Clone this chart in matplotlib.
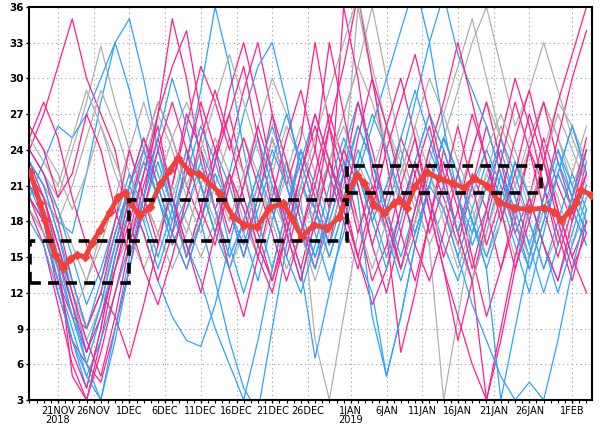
import matplotlib
matplotlib.use("Agg")
import matplotlib.pyplot as plt
from matplotlib.patches import Rectangle
import numpy as np

# days counted from 17 Nov 2018
member_days = list(range(0, 80, 2))

pink = [
    [24, 27, 31, 35, 30, 27, 24, 18, 22, 26, 20, 15, 19, 24, 27, 22, 17, 13, 18, 24, 20, 16, 22, 28, 24, 19, 14, 18, 23, 20, 16, 21, 26, 22, 17, 20, 25, 21, 18, 23],
    [22, 18, 12, 8, 6, 4.5, 9, 14, 20, 27, 35, 30, 23, 19, 22, 17, 21, 27, 23, 18, 14, 19, 24, 21, 16, 12, 17, 22, 26, 21, 17, 22, 19, 14, 18, 24, 28, 23, 19, 22],
    [20, 17, 13, 10, 9, 12, 10, 6.5, 11, 16, 21, 26, 31, 28, 24, 29, 33, 27, 21, 17, 22, 27, 23, 18, 13, 16, 21, 25, 20, 15, 19, 24, 28, 23, 18, 15, 20, 25, 30, 34],
    [23, 20, 15, 5, 3, 8, 14, 19, 24, 28, 25, 21, 18, 23, 29, 33, 28, 22, 18, 14, 19, 26, 31, 37, 30, 23, 17, 13, 18, 24, 20, 15, 10, 14, 19, 24, 21, 16, 20, 25],
    [21, 19, 14, 7, 4, 9, 15, 20, 17, 13, 17, 23, 28, 24, 19, 15, 20, 25, 21, 25, 33, 26, 19, 15, 11, 14, 19, 23, 19, 14, 10, 6, 3, 8, 14, 19, 23, 19, 15, 18],
    [25, 28, 25, 20, 16, 13, 18, 24, 20, 16, 21, 27, 24, 19, 14, 10, 15, 20, 25, 29, 24, 19, 36, 30, 22, 17, 7, 12, 18, 23, 19, 14, 19, 25, 30, 26, 21, 17, 13, 18],
    [19, 16, 11, 6, 3, 7, 12, 17, 22, 27, 31, 34, 27, 21, 17, 21, 26, 22, 17, 13, 18, 23, 20, 15, 20, 26, 30, 25, 19, 14, 8, 13, 18, 23, 28, 24, 19, 15, 19, 24],
    [24, 22, 18, 13, 9, 12, 17, 21, 25, 21, 17, 14, 18, 23, 27, 31, 25, 19, 15, 20, 24, 33, 27, 21, 16, 20, 25, 22, 17, 21, 26, 21, 16, 20, 25, 29, 24, 19, 15, 12],
    [22, 20, 16, 12, 8, 5, 10, 16, 21, 25, 20, 16, 12, 17, 22, 19, 15, 12, 17, 22, 26, 22, 18, 14, 19, 24, 28, 32, 27, 22, 17, 13, 3, 9, 15, 20, 16, 13, 18, 22],
    [26, 24, 20, 22, 27, 24, 19, 15, 19, 24, 28, 24, 19, 16, 21, 25, 21, 17, 13, 17, 21, 26, 22, 17, 21, 18, 14, 19, 24, 28, 33, 28, 23, 19, 14, 18, 23, 28, 32, 36],
    [20, 18, 15, 11, 7, 10, 14, 18, 14, 11, 15, 20, 25, 29, 25, 20, 16, 13, 17, 22, 27, 23, 19, 25, 30, 26, 21, 16, 13, 17, 22, 27, 23, 18, 22, 27, 23, 18, 14, 17],
]

blue = [
    [22, 20, 18, 17, 22, 28, 33, 35, 30, 24, 19, 15, 19, 24, 21, 17, 13, 18, 23, 19, 15, 19, 24, 28, 23, 18, 14, 18, 22, 19, 15, 19, 23, 20, 16, 12, 17, 22, 26, 22],
    [20, 23, 26, 25, 27, 30, 33, 29, 24, 20, 17, 20, 24, 21, 16, 12, 16, 21, 18, 14, 6.5, 12, 18, 22, 19, 15, 19, 23, 20, 16, 13, 17, 21, 24, 20, 16, 20, 24, 21, 18],
    [21, 18, 13, 8, 4, 9, 15, 20, 17, 13, 10, 8, 7.5, 11, 16, 21, 25, 21, 17, 13, 18, 23, 19, 15, 12, 5, 10, 16, 21, 25, 22, 18, 14, 18, 23, 20, 16, 13, 17, 21],
    [23, 21, 17, 12, 7, 11, 16, 21, 25, 22, 18, 23, 29, 36, 31, 24, 18, 14, 19, 24, 21, 17, 21, 26, 23, 19, 15, 19, 24, 21, 17, 13, 17, 22, 19, 15, 19, 23, 20, 17],
    [19, 17, 13, 9, 5, 8, 12, 16, 20, 24, 20, 16, 13, 9, 6, 3, 8, 14, 19, 23, 27, 23, 19, 22, 26, 30, 34, 38, 33, 26, 20, 16, 19, 23, 20, 16, 12, 16, 20, 24],
    [24, 22, 19, 15, 11, 14, 18, 22, 19, 15, 19, 24, 21, 17, 22, 27, 31, 33, 28, 22, 17, 13, 17, 22, 18, 14, 18, 23, 27, 24, 20, 17, 21, 25, 22, 18, 14, 18, 22, 19],
    [22, 20, 16, 11, 6, 3, 8, 14, 19, 23, 19, 15, 18, 13, 8, 4, 2, 9, 16, 21, 19, 16, 20, 24, 21, 17, 13, 17, 21, 25, 22, 18, 15, 19, 23, 20, 16, 12, 16, 20],
    [21, 19, 15, 10, 6, 10, 15, 19, 23, 20, 16, 19, 23, 19, 15, 18, 22, 26, 22, 18, 15, 19, 23, 20, 10, 5, 10, 16, 21, 25, 22, 18, 14, 3, 9, 15, 20, 24, 20, 17],
    [20, 18, 14, 10, 7, 11, 16, 21, 18, 14, 18, 22, 26, 23, 19, 16, 20, 24, 21, 17, 14, 18, 22, 26, 23, 19, 23, 28, 33, 37, 32, 29, 26, 22, 18, 14, 18, 22, 19, 16],
    [23, 21, 17, 13, 9, 13, 17, 21, 24, 21, 17, 14, 18, 22, 19, 15, 19, 23, 27, 23, 19, 15, 19, 23, 27, 24, 20, 17, 21, 19, 15, 11, 8, 5, 3, 4.5, 3, 8, 14, 19],
    [18, 16, 12, 8, 5, 3, 9, 15, 20, 25, 30, 26, 21, 17, 14, 18, 22, 19, 15, 12, 16, 21, 25, 22, 18, 21, 25, 29, 25, 21, 17, 21, 24, 21, 17, 14, 18, 22, 26, 22],
]

gray = [
    [24, 22, 20, 24, 28, 32.7, 28, 24, 20, 17, 20, 24, 21, 17, 21, 25, 22, 18, 22, 26, 22, 18, 22, 36, 30, 24, 19, 23, 27, 24, 20, 24, 28, 25, 21, 25, 28, 25, 21, 24],
    [23, 21, 19, 16, 13, 16, 20, 24, 28, 24, 20, 17, 21, 25, 22, 18, 15, 19, 23, 20, 8, 3, 10, 17, 22, 26, 23, 19, 23, 27, 31, 35, 30, 25, 21, 24, 28, 25, 22, 26],
    [25, 23, 21, 25, 29, 26, 22, 19, 23, 27, 24, 20, 17, 21, 25, 22, 18, 22, 26, 23, 19, 23, 27, 31, 36, 30, 24, 20, 16, 3, 10, 17, 22, 26, 23, 19, 23, 27, 24, 21],
    [21, 19, 16, 12, 9, 12, 16, 20, 23, 20, 16, 19, 22, 19, 15, 18, 21, 18, 14, 17, 20, 23, 26, 22, 18, 21, 24, 20, 16, 19, 22, 19, 15, 18, 21, 18, 14, 17, 20, 23],
    [22, 20, 18, 21, 25, 29, 26, 22, 18, 21, 25, 28, 25, 21, 18, 22, 26, 30, 27, 23, 19, 23, 27, 31, 28, 24, 20, 17, 21, 25, 29, 33, 36, 31, 26, 29, 33, 29, 25, 22],
    [20, 18, 15, 11, 8, 11, 14, 17, 20, 17, 14, 17, 21, 18, 14, 17, 21, 25, 21, 17, 13, 17, 21, 18, 14, 18, 22, 26, 22, 18, 14, 18, 22, 19, 15, 19, 23, 20, 16, 19],
    [26, 24, 22, 19, 22, 26, 23, 20, 24, 28, 25, 21, 24, 28, 32, 28, 24, 20, 17, 21, 25, 29, 33, 37, 31, 26, 22, 26, 30, 27, 23, 20, 24, 27, 24, 20, 24, 28, 26, 23],
    [19, 17, 14, 10, 13, 17, 20, 17, 14, 17, 21, 18, 15, 18, 22, 19, 16, 13, 17, 21, 18, 15, 19, 23, 20, 17, 14, 18, 22, 19, 16, 13, 17, 21, 18, 15, 19, 22, 19, 16],
]

# thick red curve
mean_days = [0.1, 1.5, 2.2, 2.9, 3.6, 4.7, 5.7, 6.7, 7.8, 8.8, 9.9, 11.3, 12.4, 13.4, 14.1,
             15.5, 16.9, 18.3, 19.7, 20.8, 22.5, 23.8, 26.6, 28.5, 30.1, 31.9, 33.6, 35.5,
             36.7, 38.1, 39.9, 41.7, 43.4, 44.4, 45.8, 46.9, 48.3, 49.7, 51.1, 51.8, 52.8,
             53.9, 55.6, 57.4, 59.2, 60.9, 62.3, 64.1, 65.8, 67.9, 70.0, 72.1, 73.5, 74.5,
             75.6, 76.6, 77.3, 78.7]
mean_vals = [22.1, 19.5, 18.1, 16.4, 15.2, 14.1, 14.8, 15.2, 15.0, 16.2, 17.3, 18.8, 20.0, 20.4, 19.5,
             18.5, 19.2, 21.1, 22.3, 23.3, 22.1, 22.0, 20.4, 18.4, 17.7, 17.5, 19.1, 19.5,
             18.3, 16.7, 17.7, 17.4, 18.4, 20.0, 21.9, 21.2, 19.4, 18.7, 19.5, 19.8, 19.1,
             20.9, 22.1, 21.6, 21.2, 20.8, 21.6, 21.0, 19.6, 19.1, 19.0, 19.1, 18.8, 18.1,
             18.8, 19.6, 20.6, 20.2]

# dashed boxes: start day, end day, low, high
box_start = [0.1, 13.9, 44.5]
box_end = [13.9, 44.5, 71.7]
box_low = [12.85, 16.35, 20.4]
box_high = [16.35, 19.8, 22.65]

tick_days = [4, 9, 14, 19, 24, 29, 34, 39, 45, 50, 55, 60, 65, 70, 76]
tick_labels = ["21NOV\n2018", "26NOV", "1DEC", "6DEC", "11DEC", "16DEC", "21DEC", "26DEC",
               "1JAN\n2019", "6JAN", "11JAN", "16JAN", "21JAN", "26JAN", "1FEB"]

fig = plt.figure(figsize=(6, 4.26), dpi=100)
ax = fig.add_axes([0.049, 0.061, 0.938, 0.923])

# draw members mixed so no colour sits fully on top
for i in range(len(blue)):
    if i < len(gray):
        ax.plot(member_days, gray[i], color="#b0b0b0", lw=0.9, zorder=2)
    ax.plot(member_days, blue[i], color="#2aa4ff", lw=0.9, zorder=2)
    ax.plot(member_days, pink[i], color="#ff1f8c", lw=0.9, zorder=2)

ax.plot(mean_days, mean_vals, color="#f5403a", lw=3.5, marker="D", ms=4.5, zorder=4)

for i in range(len(box_start)):
    ax.add_patch(Rectangle((box_start[i], box_low[i]), box_end[i] - box_start[i],
                           box_high[i] - box_low[i], fill=False, ec="black", lw=2.6,
                           ls=(0, (3, 2)), zorder=5))

ax.set_xlim(0, 78.8)
ax.set_ylim(3, 36)
ax.set_yticks(range(3, 37, 3))
ax.set_xticks(tick_days)
ax.set_xticklabels(tick_labels, fontsize=7, linespacing=0.9)
ax.set_xticks(range(0, 79), minor=True)
ax.grid(True, ls=(0, (1, 3)), color="#999999", lw=0.8)
ax.tick_params(axis="y", labelsize=7.5, length=2, width=1, pad=2)
ax.tick_params(axis="x", length=2, width=1, pad=2)
ax.tick_params(axis="x", which="minor", length=2, width=0.8)
for lab in ax.get_yticklabels():
    lab.set_fontweight("bold")
for s in ax.spines.values():
    s.set_linewidth(1.5)

plt.savefig("out.png", dpi=100)
